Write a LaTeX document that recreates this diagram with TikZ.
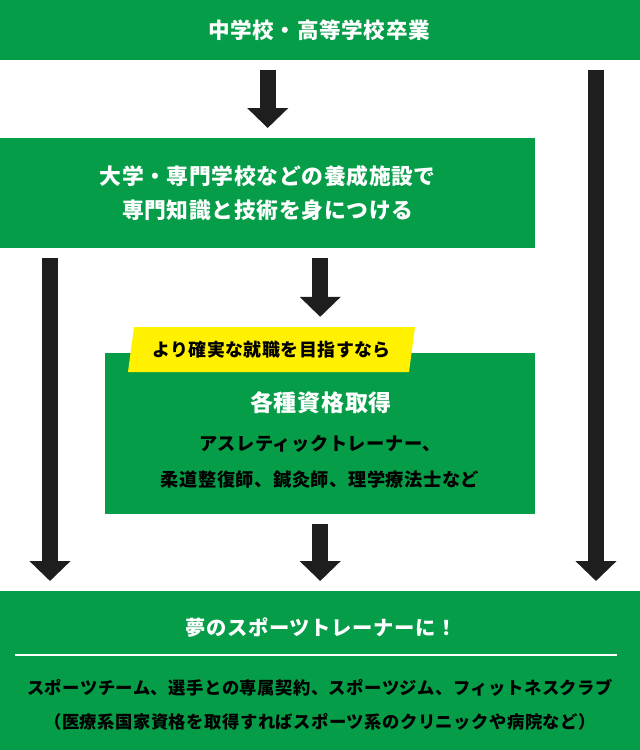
\documentclass[tikz,border=0pt]{standalone}
\usepackage{fontspec}
\setmainfont{Noto Sans CJK JP}[LetterSpace=3]
\usepackage{xcolor}
\usepackage{tikz}
\usetikzlibrary{arrows.meta}

\definecolor{boxgreen}{HTML}{069D48}
\definecolor{tagyellow}{HTML}{FFF100}
\definecolor{arrowblack}{HTML}{1E1E1E}

\begin{document}
\begin{tikzpicture}[x=1pt,y=-1pt,
    greenbox/.style={rectangle, fill=boxgreen, inner sep=0pt, anchor=north west},
    whitetext/.style={text=white, font=\bfseries\fontsize{21.6}{34}\selectfont, align=center},
    blacktext/.style={text=black, font=\bfseries\fontsize{17.3}{34}\selectfont, align=center},
    flow/.style={draw=arrowblack, line width=16pt, -{Triangle[width=40pt,length=20pt]},
        shorten <=10pt, shorten >=10pt}]

            \useasboundingbox (0,0) rectangle (640,750);

            % Boxes
            \node[greenbox, minimum width=640pt, minimum height=60pt] (top) at (0,0) {};
            \node[whitetext] at (319,30) {中学校・高等学校卒業};

            \node[greenbox, minimum width=535pt, minimum height=110pt, whitetext,
                font=\bfseries\fontsize{21.8}{34}\selectfont] (study) at (0,138)
                {大学・専門学校などの養成施設で\\専門知識と技術を身につける};

            \node[greenbox, minimum width=430pt, minimum height=161pt] (license) at (105,353) {};

            % Yellow tag on the license box
            \fill[tagyellow] (128,372) -- (134,327) -- (415,327) -- (409,372) -- cycle;
            \node[inner sep=0pt, minimum width=281pt, minimum height=45pt,
                font=\bfseries\fontsize{17.9}{20}\selectfont] (tag) at (271.5,349.5) {より確実な就職を目指すなら};

            \node[whitetext, font=\bfseries\fontsize{23}{26}\selectfont] at (321,403) {各種資格取得};
            \node[blacktext, font=\bfseries\fontsize{18.2}{36}\selectfont] at (320,462)
                {アスレティックトレーナー、\\柔道整復師、鍼灸師、理学療法士など};

            \node[greenbox, minimum width=640pt, minimum height=159pt] (goal) at (0,591) {};
            \node[whitetext, font=\bfseries\fontsize{20.3}{24}\selectfont] at (321,628) {夢のスポーツトレーナーに！};
            \draw[white, line width=2.5pt] (15,655) -- (617,655);
            \node[blacktext] at (320,705)
                {スポーツチーム、選手との専属契約、スポーツジム、フィットネスクラブ\\（医療系国家資格を取得すればスポーツ系のクリニックや病院など）};

            % Arrows
            \coordinate (rbar) at (596,60);
            \coordinate (lbar) at (50,248);
            \draw[flow] (top.south -| study.north) -- (study.north);
            \draw[flow] (rbar) -- (rbar |- goal.north);
            \draw[flow] (study.south -| lbar) -- (lbar |- goal.north);
            \draw[flow] (study.south -| license.north) -- (tag.north -| license.north);
            \draw[flow] (license.south) -- (license.south |- goal.north);
        \end{tikzpicture}
\end{document}
